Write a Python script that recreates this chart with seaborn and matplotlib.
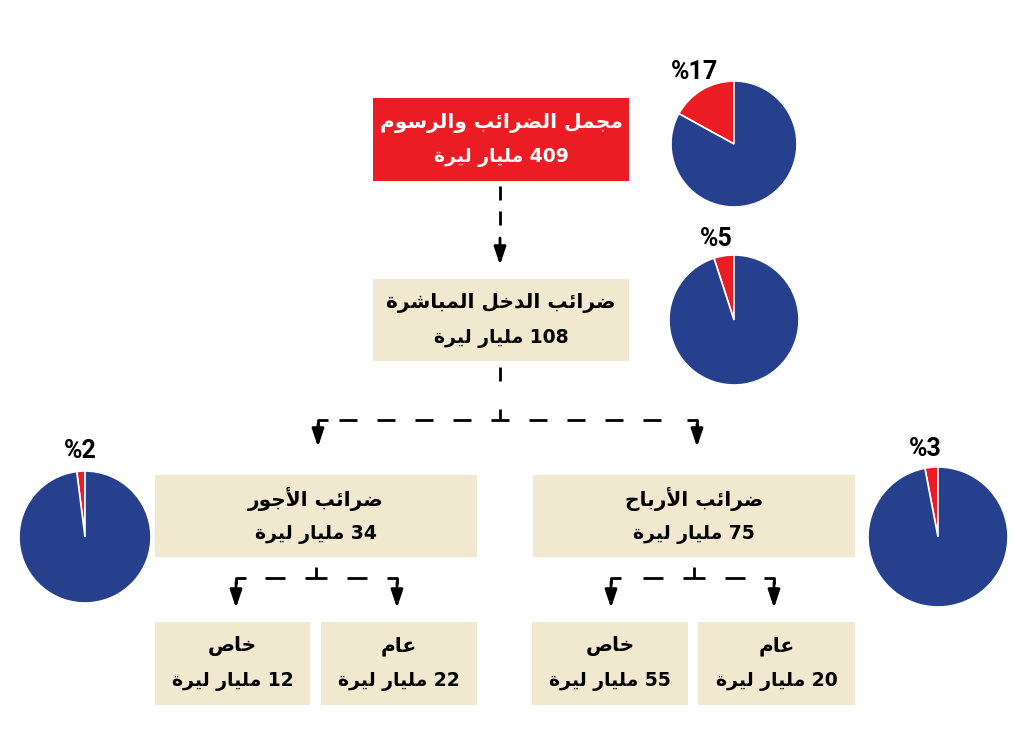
import matplotlib
matplotlib.use("Agg")
import matplotlib.pyplot as plt
import seaborn as sns

# ---- data ----
box_titles = ["مجمل الضرائب والرسوم", "ضرائب الدخل المباشرة",
              "ضرائب الأجور", "ضرائب الأرباح",
              "خاص", "عام", "خاص", "عام"]
box_values = [409, 108, 34, 75, 12, 22, 55, 20]
unit = "مليار ليرة"
pie_shares = [17, 5, 2, 3]

RED = "#ec1c24"
BLUE = "#26408e"
BEIGE = "#f0e9cf"

# ---- minimal arabic shaping (matplotlib has no complex text layout) ----
FORMS = {
    'ا': ('\uFE8D', '\uFE8E', None, None),
    'أ': ('\uFE83', '\uFE84', None, None),
    'ب': ('\uFE8F', '\uFE90', '\uFE91', '\uFE92'),
    'ة': ('\uFE93', '\uFE94', None, None),
    'ج': ('\uFE9D', '\uFE9E', '\uFE9F', '\uFEA0'),
    'ح': ('\uFEA1', '\uFEA2', '\uFEA3', '\uFEA4'),
    'خ': ('\uFEA5', '\uFEA6', '\uFEA7', '\uFEA8'),
    'د': ('\uFEA9', '\uFEAA', None, None),
    'ر': ('\uFEAD', '\uFEAE', None, None),
    'س': ('\uFEB1', '\uFEB2', '\uFEB3', '\uFEB4'),
    'ش': ('\uFEB5', '\uFEB6', '\uFEB7', '\uFEB8'),
    'ص': ('\uFEB9', '\uFEBA', '\uFEBB', '\uFEBC'),
    'ض': ('\uFEBD', '\uFEBE', '\uFEBF', '\uFEC0'),
    'ع': ('\uFEC9', '\uFECA', '\uFECB', '\uFECC'),
    'ل': ('\uFEDD', '\uFEDE', '\uFEDF', '\uFEE0'),
    'م': ('\uFEE1', '\uFEE2', '\uFEE3', '\uFEE4'),
    'و': ('\uFEED', '\uFEEE', None, None),
    'ي': ('\uFEF1', '\uFEF2', '\uFEF3', '\uFEF4'),
    'ئ': ('\uFE89', '\uFE8A', '\uFE8B', '\uFE8C'),
    'لا': ('\uFEFB', '\uFEFC', None, None),
    'لأ': ('\uFEF7', '\uFEF8', None, None),
}


def shape_word(word):
    toks = []
    i = 0
    while i < len(word):
        if word[i] == 'ل' and i + 1 < len(word) and word[i + 1] in 'اأ':
            toks.append(word[i:i + 2])
            i += 2
        else:
            toks.append(word[i])
            i += 1
    out = []
    for k, t in enumerate(toks):
        f = FORMS.get(t)
        if f is None:
            out.append(t)
            continue
        prev = toks[k - 1] if k > 0 else None
        nxt = toks[k + 1] if k + 1 < len(toks) else None
        jp = prev is not None and prev in FORMS and FORMS[prev][2] is not None
        jn = f[2] is not None and nxt is not None and nxt in FORMS
        if jp and jn:
            out.append(f[3])
        elif jp:
            out.append(f[1])
        elif jn:
            out.append(f[2])
        else:
            out.append(f[0])
    return "".join(reversed(out))


def ar(line):
    words = []
    for w in line.split(" "):
        words.append(w if w.isascii() else shape_word(w))
    return " ".join(reversed(words))


sns.set_theme(style="white")
plt.rcParams['font.family'] = ['DejaVu Sans']

W, H = 1024, 737
fig = plt.figure(figsize=(W / 100, H / 100), dpi=100)
ax = fig.add_axes([0, 0, 1, 1])
ax.set_xlim(0, W)
ax.set_ylim(H, 0)
ax.axis("off")

# boxes: (x0, y0, x1, y1) in pixels
boxes = [(373, 98, 629, 181), (373, 279, 629, 361),
         (155, 475, 477, 557), (533, 475, 855, 557),
         (155, 622, 310, 705), (321, 622, 477, 705),
         (532, 622, 688, 705), (698, 622, 855, 705)]

for i, (x0, y0, x1, y1) in enumerate(boxes):
    fc = RED if i == 0 else BEIGE
    tc = "white" if i == 0 else "black"
    ax.add_patch(plt.Rectangle((x0, y0), x1 - x0, y1 - y0, facecolor=fc,
                               edgecolor="none"))
    cx = (x0 + x1) / 2
    ym = (y0 + y1) / 2
    ax.text(cx, ym - 17, ar(box_titles[i]), ha="center", va="center",
            fontsize=14.5, fontweight="bold", color=tc)
    ax.text(cx, ym + 18, ar(f"{box_values[i]} {unit}"), ha="center",
            va="center", fontsize=13.5, fontweight="bold", color=tc)

# connectors
LW = 2.0
K = dict(color="black", lw=LW, solid_capstyle="butt")


def seg(x0, y0, x1, y1):
    ax.plot([x0, x1], [y0, y1], **K)


def arrow_down(x, y0, y1):
    ax.annotate("", xy=(x, y1), xytext=(x, y0),
                arrowprops=dict(arrowstyle="-|>,head_length=0.9,head_width=0.3",
                                color="black", lw=LW, shrinkA=0, shrinkB=0))


def vdash(x, ya, yb, dash=14, gap=11):
    y = ya
    while y + dash <= yb:
        seg(x, y, x, y + dash)
        y += dash + gap


def branch(xl, xm, xr, y, ytop, yarrow, dash, gap, jw):
    vdash(xm, ytop, y - 11 - 8)
    seg(xm - jw / 2, y, xm + jw / 2, y)
    seg(xm, y - 11, xm, y)
    for sgn, xc in ((-1, xl), (1, xr)):
        x = xm + sgn * (jw / 2 + gap)
        while sgn * (xc - (x + sgn * dash)) > 15:
            seg(x, y, x + sgn * dash, y)
            x += sgn * (dash + gap)
        ax.plot([xc - sgn * 10, xc, xc], [y, y, y + 6], **K)
        arrow_down(xc, y + 4, yarrow)


vdash(500, 186, 230)
arrow_down(500, 238, 265)
branch(318, 500, 697, 420, 367, 447, 18, 20, 18)
branch(236, 316, 397, 578, 566, 608, 20, 20, 22)
branch(611, 694, 774, 578, 566, 608, 20, 20, 22)

# pies: (cx, cy, r, label x, label y)
pies = [(734, 144, 63, 695, 72), (734, 320, 65, 716, 239),
        (85, 537, 66, 80, 451), (938, 537, 70, 925, 449)]
for share, (cx, cy, r, lx, ly) in zip(pie_shares, pies):
    pax = fig.add_axes([(cx - r) / W, 1 - (cy + r) / H, 2 * r / W, 2 * r / H])
    pax.pie([share, 100 - share], colors=[RED, BLUE], startangle=90,
            counterclock=True, radius=1,
            wedgeprops=dict(edgecolor="white", linewidth=1.2))
    pax.set_xlim(-1, 1)
    pax.set_ylim(-1, 1)
    pax.axis("off")
    ax.text(lx, ly, f"%{share}", ha="center", va="center", fontsize=18,
            fontweight="bold", color="black", family=["Roboto", "DejaVu Sans"])

fig.savefig("out.png", dpi=100)
